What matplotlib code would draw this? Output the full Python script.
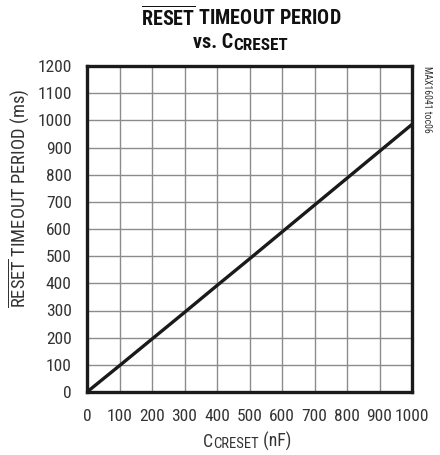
import matplotlib
matplotlib.use("Agg")
import matplotlib.pyplot as plt

FONT = 'Roboto Condensed'
plt.rcParams['font.family'] = [FONT, 'DejaVu Sans']
plt.rcParams['mathtext.fontset'] = 'custom'
plt.rcParams['mathtext.rm'] = FONT
plt.rcParams['mathtext.it'] = FONT
plt.rcParams['mathtext.bf'] = FONT + ':bold'

cap_nf = [0, 100, 200, 300, 400, 500, 600, 700, 800, 900, 1000]
timeout_ms = [0, 97, 195, 293, 392, 490, 589, 688, 787, 886, 985]
x_ticks = [0, 100, 200, 300, 400, 500, 600, 700, 800, 900, 1000]
y_ticks = [0, 100, 200, 300, 400, 500, 600, 700, 800, 900, 1000, 1100, 1200]

W, H = 440, 455
fig = plt.figure(figsize=(W / 100, H / 100), dpi=100)
ax = fig.add_axes([87/W, 1-392/H, 325/W, 326/H])
ax.plot(cap_nf, timeout_ms, color='#1a1a1a', lw=2.4, solid_capstyle='butt')
ax.set_xlim(0, 1000)
ax.set_ylim(0, 1200)
ax.set_xticks(x_ticks)
ax.set_yticks(y_ticks)
ax.grid(True, color='#8c8c8c', lw=1.0)
ax.set_axisbelow(True)
ax.tick_params(length=0, labelsize=12.5, colors='#333333')
ax.tick_params(axis='y', pad=11)
ax.tick_params(axis='x', pad=12)
for s in ax.spines.values():
    s.set_linewidth(2.4)
    s.set_color('#1a1a1a')

ax.set_ylabel(r'$\overline{\mathrm{RESET}}$ TIMEOUT PERIOD (ms)', fontsize=13.3, color='#333333')
ax.yaxis.set_label_coords((32 - 87) / 325, (392 - 198) / 326)

renderer = fig.canvas.get_renderer()


def text_run(runs, xc, baseline, color):
    """runs: list of (text, size, weight, drop_px). Placed left to right, centred at xc (px)."""
    items = []
    total = 0.0
    for txt, size, weight, drop in runs:
        t = fig.text(0, 0, txt, fontsize=size, fontweight=weight, color=color,
                     ha='left', va='baseline')
        w = t.get_window_extent(renderer).width
        items.append((t, w, drop))
        total += w
    x = xc - total / 2
    for t, w, drop in items:
        t.set_position((x / W, 1 - (baseline + drop) / H))
        x += w


fig.text(241/W, 1-17/H, r'$\overline{\mathbf{RESET}}$ TIMEOUT PERIOD', ha='center', va='center',
         fontsize=14.5, fontweight='bold', color='#111111')
text_run([('vs. C', 14.5, 'bold', 0), ('CRESET', 12.3, 'bold', 1.5)], 240, 48, '#111111')
text_run([('C', 12.8, 'normal', 0), ('CRESET', 10.5, 'normal', 1.5), (' (nF)', 12.8, 'normal', 0)],
         247, 447, '#333333')

fig.text(427/W, 1-99/H, 'MAX16041 toc06', rotation=-90, ha='center', va='center',
         fontsize=7, color='#333333')

fig.savefig('out.png', dpi=100)
